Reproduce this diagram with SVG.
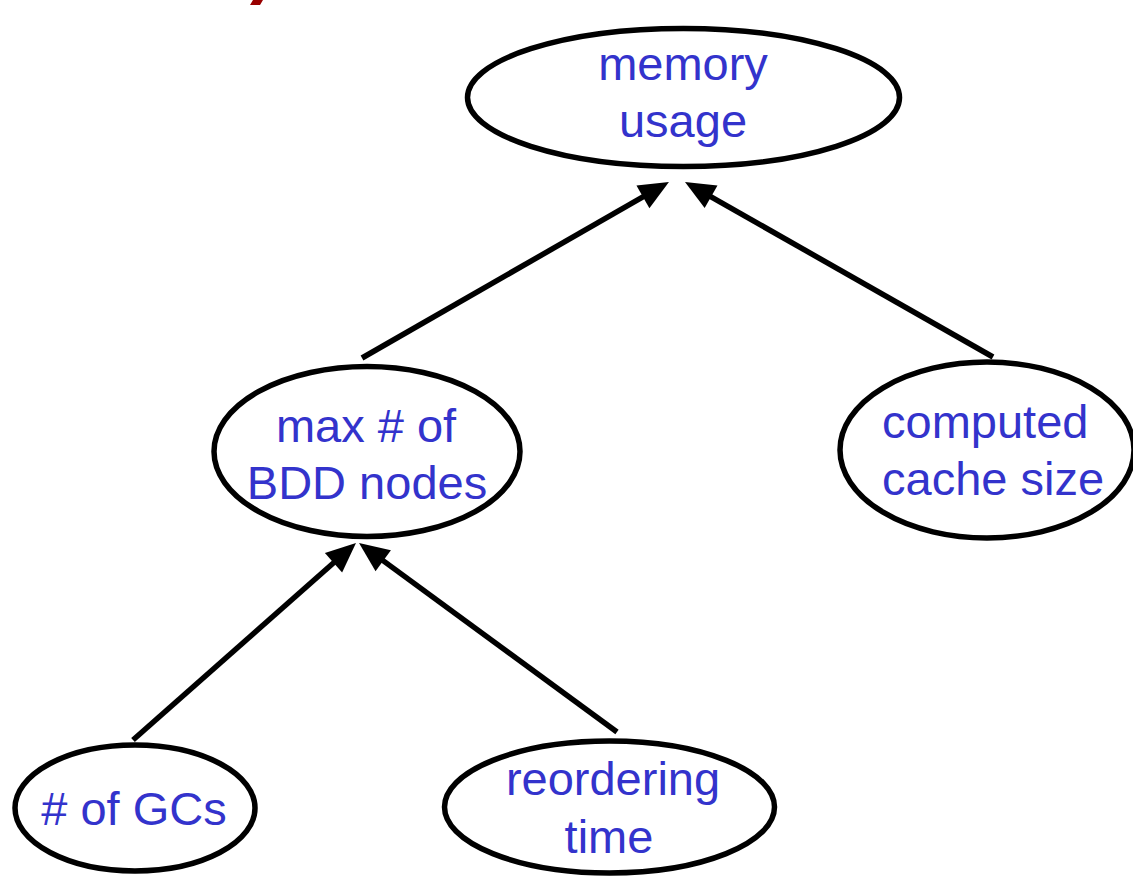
<svg xmlns="http://www.w3.org/2000/svg" width="1133" height="877" viewBox="0 0 1133 877">
  <style>
    .node ellipse { fill: #ffffff; stroke: #000000; stroke-width: 5.5; }
    .node text { font-family: "Liberation Sans", Arial, sans-serif; font-size: 47px; fill: #3333cc; text-anchor: middle; }
    .edge { stroke: #000000; stroke-width: 5.5; fill: none; marker-end: url(#arrow); }
  </style>
  <defs>
    <marker id="arrow" markerUnits="userSpaceOnUse" markerWidth="30" markerHeight="26" viewBox="0 -13 30 26" refX="4" refY="0" orient="auto" overflow="visible">
      <path d="M0,-13 L30,0 L0,13 Z" fill="#000000"/>
    </marker>
  </defs>

  <rect width="1133" height="877" fill="#ffffff"/>

  <!-- clipped corner of the heading above -->
  <polygon points="250,5 253,0 263,0 260,5" fill="#990000"/>

  <g id="connectors">
    <line class="edge" x1="362" y1="358" x2="646.4" y2="194.9"/>
    <line class="edge" x1="993" y1="357" x2="707.6" y2="194.8"/>
    <line class="edge" x1="133" y1="740" x2="336.5" y2="560.2"/>
    <line class="edge" x1="617" y1="732" x2="380.0" y2="558.4"/>
  </g>

  <g id="memory-usage" class="node">
    <ellipse cx="683.5" cy="97.5" rx="216" ry="69"/>
    <text x="683" y="80">memory</text>
    <text x="683" y="137">usage</text>
  </g>

  <g id="max-bdd-nodes" class="node">
    <ellipse cx="367" cy="451.5" rx="153" ry="85"/>
    <text x="366" y="442">max # of</text>
    <text x="367" y="499">BDD nodes</text>
  </g>

  <g id="computed-cache-size" class="node">
    <ellipse cx="987" cy="450" rx="147" ry="88"/>
    <text x="882" y="438" style="text-anchor:start">computed</text>
    <text x="882" y="495" style="text-anchor:start">cache size</text>
  </g>

  <g id="num-gcs" class="node">
    <ellipse cx="135" cy="808" rx="120" ry="63"/>
    <text x="134" y="825"># of GCs</text>
  </g>

  <g id="reordering-time" class="node">
    <ellipse cx="609.5" cy="807" rx="165" ry="66"/>
    <text x="613" y="795">reordering</text>
    <text x="609" y="853">time</text>
  </g>
</svg>
